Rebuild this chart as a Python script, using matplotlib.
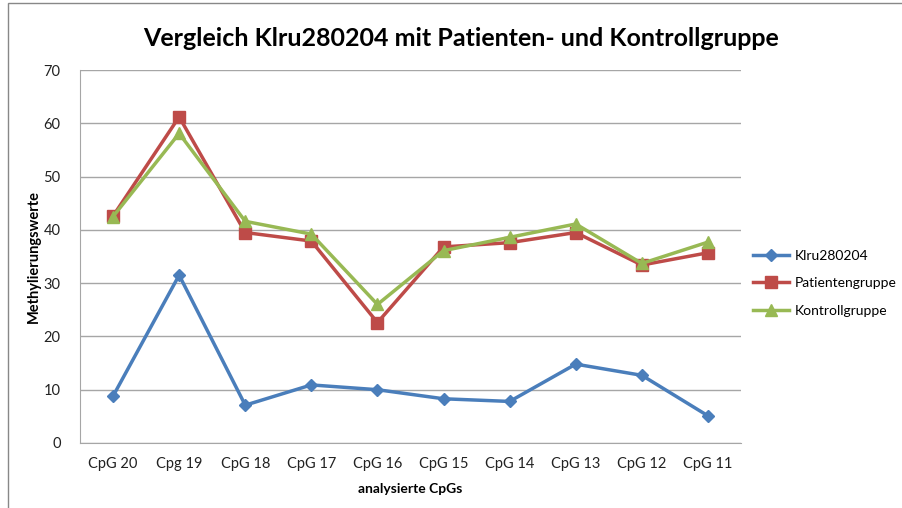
import matplotlib.pyplot as plt
from matplotlib.patches import Rectangle

# data
categories = ['CpG 20', 'Cpg 19', 'CpG 18', 'CpG 17', 'CpG 16',
              'CpG 15', 'CpG 14', 'CpG 13', 'CpG 12', 'CpG 11']
klru = [8.8, 31.5, 7.1, 10.9, 10.0, 8.3, 7.8, 14.8, 12.7, 5.1]
patienten = [42.6, 61.2, 39.5, 37.9, 22.6, 36.8, 37.6, 39.5, 33.4, 35.7]
kontroll = [42.5, 58.1, 41.6, 39.2, 26.0, 36.1, 38.6, 41.1, 33.7, 37.7]

plt.rcParams['font.family'] = ['Lato', 'DejaVu Sans']

fig = plt.figure(figsize=(9.03, 5.08), dpi=100)
# chart border
fig.patches.append(Rectangle((8/903, -0.05), 1.0, (508-3)/508 + 0.05,
                             transform=fig.transFigure, fill=False,
                             edgecolor='#888888', lw=1))

ax = fig.add_axes([80/903, 65/508, 661/903, 373/508])
x = range(len(categories))
ax.plot(x, klru, color='#4a7ebb', lw=2.5, marker='D', ms=6.5, label='Klru280204')
ax.plot(x, patienten, color='#be4b48', lw=2.5, marker='s', ms=8, label='Patientengruppe')
ax.plot(x, kontroll, color='#98b954', lw=2.5, marker='^', ms=8.5, label='Kontrollgruppe')

ax.set_xlim(-0.5, len(categories) - 0.5)
ax.set_ylim(0, 70)
ax.set_yticks(range(0, 71, 10))
ax.set_xticks(list(x))
ax.set_xticklabels(categories)
ax.yaxis.grid(True, color='#a6a6a6', lw=1)
ax.set_axisbelow(True)
for s in ['top', 'right']:
    ax.spines[s].set_visible(False)
for s in ['left', 'bottom']:
    ax.spines[s].set_color('#a6a6a6')
ax.tick_params(length=0, labelsize=10.5, colors='#222222', pad=10)
ax.tick_params(axis='y', pad=14)

ax.set_xlabel('analysierte CpGs', fontsize=10, fontweight='bold', labelpad=9)
ax.set_ylabel('Methylierungswerte', fontsize=10.5, fontweight='bold', labelpad=2)
fig.text(0.511, 0.925, 'Vergleich Klru280204 mit Patienten- und Kontrollgruppe',
         ha='center', va='center', fontsize=18, fontweight='bold')

ax.legend(loc='center left', bbox_to_anchor=(1.01, 0.428), frameon=False,
          fontsize=10, handlelength=2.6, handletextpad=0.4, labelspacing=1.1,
          borderaxespad=0)

fig.savefig('out.png', dpi=100)
